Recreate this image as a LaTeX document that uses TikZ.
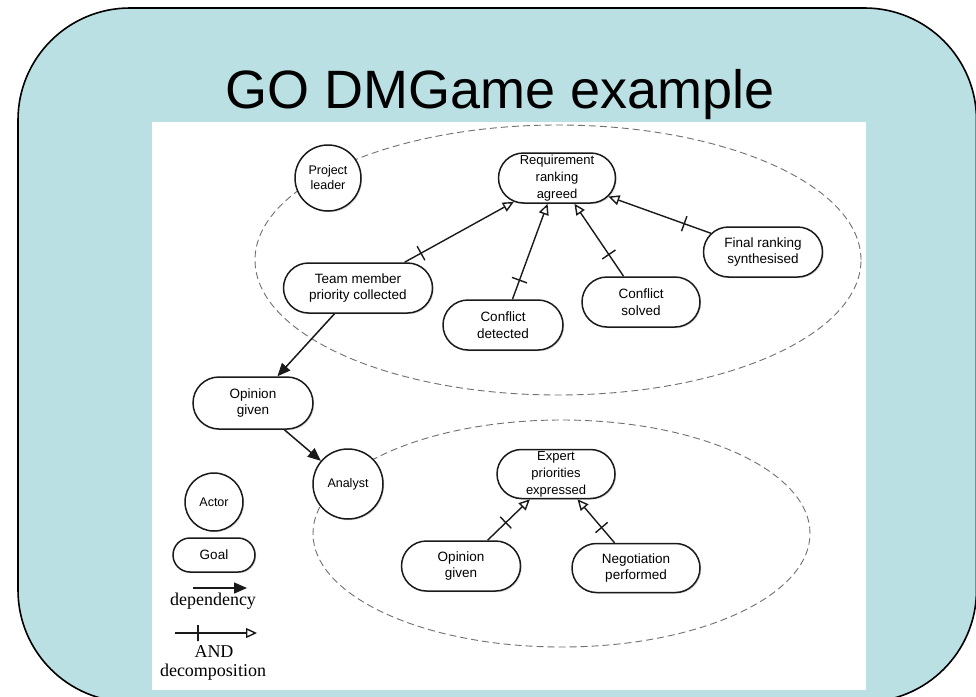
\documentclass[tikz,border=0pt]{standalone}
\usepackage{fontspec}
\setmainfont{Liberation Sans}
\newfontfamily\legendfont{Liberation Serif}
\usetikzlibrary{arrows.meta,shapes.geometric,shapes.misc,shadows}
\definecolor{slide}{HTML}{BBE0E4}
\definecolor{ink}{HTML}{1A1A1A}
\definecolor{scope}{HTML}{707070}
\tikzset{
  >=Latex,
  soft/.style={drop shadow={shadow xshift=1.2pt,shadow yshift=-1.2pt,opacity=.3}},
  actor/.style={circle,draw=ink,line width=1.5pt,fill=white,inner sep=0pt,align=center,soft,font=\fontsize{12.5}{15}\selectfont},
  goal/.style={rounded rectangle,draw=ink,line width=1.5pt,fill=white,minimum width=118pt,minimum height=50pt,inner sep=0pt,align=center,soft,font=\fontsize{13.5}{16.5}\selectfont},
  boundary/.style={ellipse,draw=scope,dash pattern=on 7pt off 4pt,line width=.9pt,inner sep=0pt},
  dep/.style={-{Triangle[length=13pt,width=11pt]},line width=1.5pt,draw=ink},
  anddec/.style={-{Triangle[open,length=11pt,width=10pt]},line width=1.4pt,draw=ink},
  bar/.style={sloped,draw=ink,line width=1.4pt,inner sep=0pt,minimum width=0pt,minimum height=16pt},
  legend/.style={font=\legendfont\fontsize{18}{20}\selectfont,inner sep=0pt},
}

\begin{document}
\begin{tikzpicture}[x=1pt,y=-1pt]
  \useasboundingbox (0,0) rectangle (976,696);
  % slide background
  \filldraw[fill=slide,draw=black,line width=1.6pt,rounded corners=112pt] (18,8) rectangle (976.5,702);
  \node[anchor=base,inner sep=0pt] (title) at (500,108) {\fontsize{54}{60}\selectfont GO DMGame example};
  \fill[white] (152,122) rectangle (866,690);

  % actor boundaries
  \node[boundary,minimum width=606pt,minimum height=270pt] (leadscope) at (558,260) {};
  \node[boundary,minimum width=497pt,minimum height=227pt] (analystscope) at (561.5,533.5) {};

  % project leader
  \node[actor,minimum size=66pt] (lead) at (328,178) {Project\\leader};
  \node[goal,minimum width=117pt,font=\fontsize{13}{17}\selectfont] (ranking) at (557,178) {Requirement\\ranking\\agreed};
  \node[goal,minimum width=149pt] (collected) at (358,288) {Team member\\priority collected};
  \node[goal,minimum width=120pt] (detected) at (503,325) {Conflict\\detected};
  \node[goal] (solved) at (641,302) {Conflict\\solved};
  \node[goal,minimum width=119pt] (synth) at (763,252) {Final ranking\\synthesised};
  \draw[anddec] (collected) -- node[bar,pos=.15]{} (ranking);
  \draw[anddec] (detected) -- node[bar,pos=.2]{} (ranking);
  \draw[anddec] (solved) -- node[bar,pos=.3]{} (ranking);
  \draw[anddec] (synth) -- node[bar,pos=.26]{} (ranking);

  % analyst
  \node[goal,minimum width=120pt,minimum height=52pt] (opinion) at (253,403) {Opinion\\given};
  \node[actor,minimum size=70pt] (analyst) at (348,484) {Analyst};
  \node[goal,minimum width=118pt,minimum height=49pt,font=\fontsize{13}{17}\selectfont] (expert) at (556,474) {Expert\\priorities\\expressed};
  \node[goal,minimum width=119pt] (opinion2) at (461,566) {Opinion\\given};
  \node[goal,minimum width=128pt,minimum height=49pt] (negotiation) at (636,568) {Negotiation\\performed};
  \draw[anddec] (opinion2) -- node[bar,pos=.43]{} (expert);
  \draw[anddec] (negotiation) -- node[bar,pos=.35]{} (expert);

  % dependency
  \draw[dep] (collected) -- (opinion);
  \draw[dep] (opinion) -- (analyst);

  % legend
  \node[actor,minimum size=58pt] (actorkey) at (214,502) {Actor};
  \node[goal,minimum width=82pt,minimum height=34pt] (goalkey) at (214,555) {Goal};
  \coordinate (depfrom) at (193,588);
  \coordinate (depto) at (247,588);
  \draw[dep] (depfrom) -- (depto);
  \node[legend,anchor=base] (deptext) at (213,605) {dependency};
  \coordinate (andfrom) at (175,633);
  \coordinate (andto) at (257,633);
  \draw[anddec] (andfrom) -- node[bar,pos=.28]{} (andto);
  \node[legend,anchor=base] (andtext) at (214,657) {AND};
  \node[legend,anchor=base] (dectext) at (213,676) {decomposition};
\end{tikzpicture}
\end{document}
